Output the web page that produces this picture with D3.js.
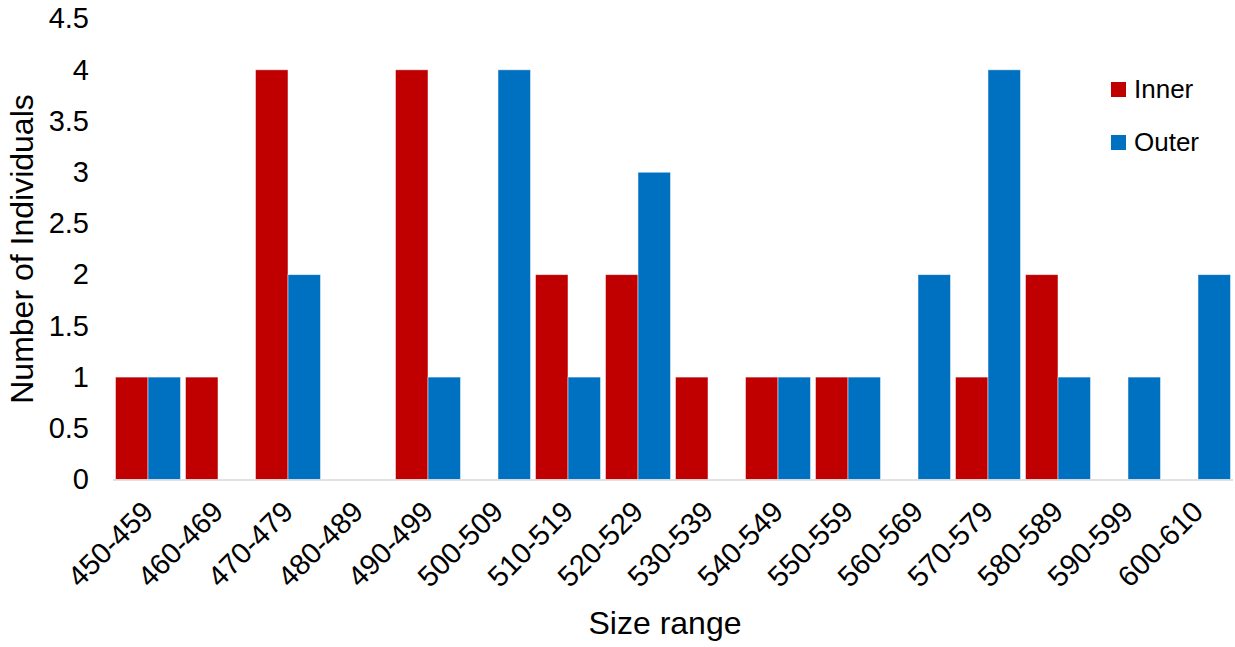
<!DOCTYPE html>
<html>
<head>
<meta charset="utf-8">
<script src="https://cdn.jsdelivr.net/npm/d3@7"></script>
<style>
  html, body { margin: 0; padding: 0; background: #fff; }
  svg { display: block; font-family: "Liberation Sans", Arial, sans-serif; }
</style>
</head>
<body>
<svg id="chart" width="1235" height="647"></svg>
<script>
const categories = ["450-459","460-469","470-479","480-489","490-499","500-509","510-519","520-529","530-539","540-549","550-559","560-569","570-579","580-589","590-599","600-610"];
const innerValues = [1,1,4,0,4,0,2,2,1,1,1,0,1,2,0,0];
const outerValues = [1,0,2,0,1,4,1,3,0,1,1,2,4,1,1,2];
const seriesNames = ["Inner","Outer"];
const seriesColors = ["#C00000","#0070C0"];
const yTicks = [0,0.5,1,1.5,2,2.5,3,3.5,4,4.5];

const svg = d3.select("#chart");
const plot = {left: 113, right: 1233, top: 18.6, bottom: 479.5};

const x0 = d3.scaleBand().domain(categories).range([plot.left, plot.right]).padding(0);
const x1 = d3.scaleBand().domain(seriesNames).range([2.5, x0.bandwidth() - 2.5]).padding(0);
const y = d3.scaleLinear().domain([0, 4.5]).range([plot.bottom, plot.top]);

const seriesValues = [innerValues, outerValues];

// bars
seriesNames.forEach((s, si) => {
  svg.append("g").selectAll("rect")
    .data(categories.map((c, i) => ({c, v: seriesValues[si][i]})).filter(d => d.v > 0))
    .join("rect")
    .attr("x", d => x0(d.c) + x1(s))
    .attr("y", d => y(d.v))
    .attr("width", x1.bandwidth())
    .attr("height", d => y(0) - y(d.v))
    .attr("fill", seriesColors[si])
    .attr("stroke", "#ffffff")
    .attr("stroke-opacity", 0.6)
    .attr("stroke-width", 0.8);
});

// baseline axis
svg.append("line")
  .attr("x1", plot.left).attr("x2", plot.right)
  .attr("y1", y(0) + 0.5).attr("y2", y(0) + 0.5)
  .attr("stroke", "#d9d9d9").attr("stroke-width", 1.5);

// y axis labels
const yAxis = d3.axisLeft(y).tickValues(yTicks).tickSize(0).tickPadding(0).tickFormat(d => String(d));
const yg = svg.append("g").attr("transform", "translate(89,0)").call(yAxis);
yg.select(".domain").remove();
yg.selectAll("text").attr("font-size", 29).attr("fill", "#000").attr("font-family", "Liberation Sans, Arial, sans-serif");

// x axis labels
const xAxis = d3.axisBottom(x0).tickSize(0).tickPadding(0);
const xg = svg.append("g").attr("transform", `translate(0,${plot.bottom})`).call(xAxis);
xg.select(".domain").remove();
xg.selectAll(".tick text")
  .attr("font-size", 29)
  .attr("fill", "#000")
  .attr("font-family", "Liberation Sans, Arial, sans-serif")
  .attr("text-anchor", "end")
  .attr("dy", null)
  .attr("y", null)
  .attr("transform", "translate(7,34) rotate(-45)");

// axis titles
svg.append("text")
  .attr("x", 665).attr("y", 634)
  .attr("text-anchor", "middle")
  .attr("font-size", 32)
  .text("Size range");

svg.append("text")
  .attr("transform", "translate(33,249) rotate(-90)")
  .attr("text-anchor", "middle")
  .attr("font-size", 32)
  .text("Number of Individuals");

// legend
const legend = svg.append("g");
seriesNames.forEach((s, i) => {
  const gy = 82 + i * 53;
  legend.append("rect").attr("x", 1111).attr("y", gy).attr("width", 15).attr("height", 15).attr("fill", seriesColors[i]);
  legend.append("text").attr("x", 1134).attr("y", gy + 16).attr("font-size", 26).text(s);
});
</script>
</body>
</html>
